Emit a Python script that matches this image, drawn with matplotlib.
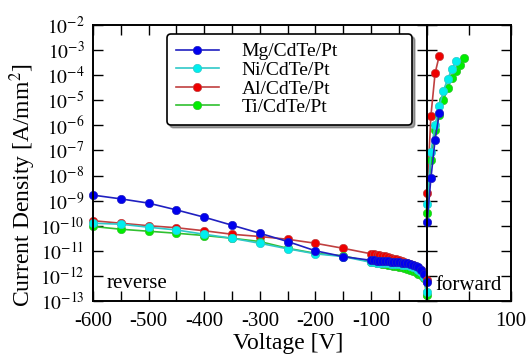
import numpy as np
import matplotlib
matplotlib.use("Agg")
import matplotlib.pyplot as plt

plt.rcParams['font.family'] = ['Liberation Serif', 'DejaVu Serif']
plt.rcParams['mathtext.fontset'] = 'stix'

labels = ['Mg/CdTe/Pt', 'Ni/CdTe/Pt', 'Al/CdTe/Pt', 'Ti/CdTe/Pt']
marker_colors = ['#0000ee', '#00eeee', '#ee0000', '#00ee00']
line_colors = ['#2020c0', '#30c8c8', '#c04040', '#30c030']

# reverse bias: coarse points every 50 V from -600 to -100, then dense from -95 to 0
v_coarse = [-600, -550, -500, -450, -400, -350, -300, -250, -200, -150, -100]
v_dense = [-95, -90, -85, -80, -75, -70, -65, -60, -55, -50,
           -45, -40, -35, -30, -25, -20, -15, -10, -5, 0]

# log10 of current density [A/mm^2]
rev_mg = [-8.78, -8.93, -9.10, -9.37, -9.66, -9.98, -10.30, -10.63, -11.00, -11.23, -11.38,
          -11.38, -11.39, -11.39, -11.40, -11.41, -11.42, -11.43, -11.44, -11.45, -11.46,
          -11.47, -11.48, -11.50, -11.52, -11.55, -11.60, -11.66, -11.76, -11.92, -12.23]
rev_ni = [-9.90, -9.94, -10.06, -10.17, -10.34, -10.50, -10.70, -10.92, -11.12, -11.23, -11.46,
          -11.46, -11.47, -11.47, -11.48, -11.49, -11.50, -11.51, -11.52, -11.53, -11.54,
          -11.55, -11.56, -11.58, -11.60, -11.63, -11.68, -11.75, -11.85, -12.05, -12.63]
rev_al = [-9.80, -9.90, -10.00, -10.08, -10.20, -10.34, -10.43, -10.54, -10.70, -10.90, -11.12,
          -11.14, -11.16, -11.18, -11.20, -11.22, -11.25, -11.28, -11.31, -11.34, -11.38,
          -11.42, -11.46, -11.50, -11.54, -11.58, -11.63, -11.69, -11.78, -11.92, -12.15]
rev_ti = [-10.03, -10.14, -10.22, -10.30, -10.39, -10.50, -10.63, -10.90, -11.10, -11.20, -11.44,
          -11.46, -11.48, -11.50, -11.52, -11.54, -11.56, -11.58, -11.60, -11.62, -11.64,
          -11.66, -11.68, -11.71, -11.75, -11.80, -11.86, -11.92, -11.98, -12.10, -12.76]

# forward bias
fwd_v_mg = [0, 0.5, 5, 10, 15]
fwd_mg = [-12.23, -9.86, -8.11, -6.58, -5.52]
fwd_v_ni = [0, 0.5, 5, 10, 15, 20, 25, 30, 35]
fwd_ni = [-12.63, -9.15, -7.05, -5.98, -5.23, -4.62, -4.15, -3.76, -3.42]
fwd_v_al = [0, 0.5, 5, 10, 15]
fwd_al = [-12.15, -8.71, -5.63, -3.92, -3.22]
fwd_v_ti = [0, 0.5, 5, 10, 15, 20, 25, 30, 35, 40, 45]
fwd_ti = [-12.76, -9.50, -7.40, -6.18, -5.59, -4.99, -4.52, -4.10, -3.82, -3.59, -3.33]

v_rev = v_coarse + v_dense
reverse = [rev_mg, rev_ni, rev_al, rev_ti]
forward = [(fwd_v_mg, fwd_mg), (fwd_v_ni, fwd_ni), (fwd_v_al, fwd_al), (fwd_v_ti, fwd_ti)]

fig = plt.figure(figsize=(5.29, 3.56), dpi=100)
axl = fig.add_axes([0.1758, 0.1545, 0.6308, 0.7753])
axr = fig.add_axes([0.8066, 0.1545, 0.1588, 0.7753])

order = [2, 3, 1, 0]  # draw Al, Ti, Ni, then Mg on top
handles = {}
for i in order:
    kw = dict(color=line_colors[i], marker='o', markersize=6, markerfacecolor=marker_colors[i],
              markeredgecolor=line_colors[i], markeredgewidth=0.5, linewidth=1.2, clip_on=False)
    h, = axl.plot(v_rev, 10.0 ** np.array(reverse[i]), label=labels[i], **kw)
    handles[i] = h
    fv, fj = forward[i]
    axr.plot(fv, 10.0 ** np.array(fj), **kw)

for ax in (axl, axr):
    ax.set_yscale('log')
    ax.set_ylim(1e-13, 1e-2)
    ax.set_yticks([10.0 ** k for k in range(-13, -1)])
    ax.yaxis.set_minor_locator(matplotlib.ticker.NullLocator())
    ax.tick_params(which='both', direction='in', length=7, width=1.0, top=True, right=True,
                   labelsize=15)
    for s in ax.spines.values():
        s.set_linewidth(1.4)

axl.set_xlim(-600, 0)
axl.set_xticks(np.arange(-600, 1, 50))
axl.set_xticklabels([str(v) if v % 100 == 0 else '' for v in range(-600, 1, 50)])
axl.set_yticklabels([r'$10^{%d}$' % k for k in range(-13, -1)])
axl.tick_params(axis='y', pad=6, labelsize=14)
axl.tick_params(axis='x', pad=8)

axr.set_xlim(0, 100)
axr.set_xticks([0, 50, 100])
axr.set_xticklabels(['', '', '100'])
axr.set_yticklabels([])
axr.tick_params(axis='x', pad=8)

axl.text(0.04, 0.065, 'reverse', transform=axl.transAxes, fontsize=15, va='center')
axr.text(0.1, 0.055, 'forward', transform=axr.transAxes, fontsize=15, va='center')

fig.text(0.544, 0.035, 'Voltage [V]', fontsize=17, ha='center', va='center')
fig.text(0.042, 0.48, 'Current Density [A/mm$^2$]', fontsize=17, ha='center', va='center',
         rotation=90)

leg = axl.legend([handles[i] for i in range(4)], labels, loc='upper left',
                 bbox_to_anchor=(0.3157, 0.9045 - 0.262, 0.463, 0.262),
                 bbox_transform=fig.transFigure, mode='expand', borderaxespad=0,
                 fontsize=14, fancybox=True, shadow=True, framealpha=1, edgecolor='black',
                 handlelength=2.2, handletextpad=1.2, labelspacing=0.05, borderpad=0.45)
leg.get_frame().set_linewidth(1.2)

fig.savefig('out.png', dpi=100)
